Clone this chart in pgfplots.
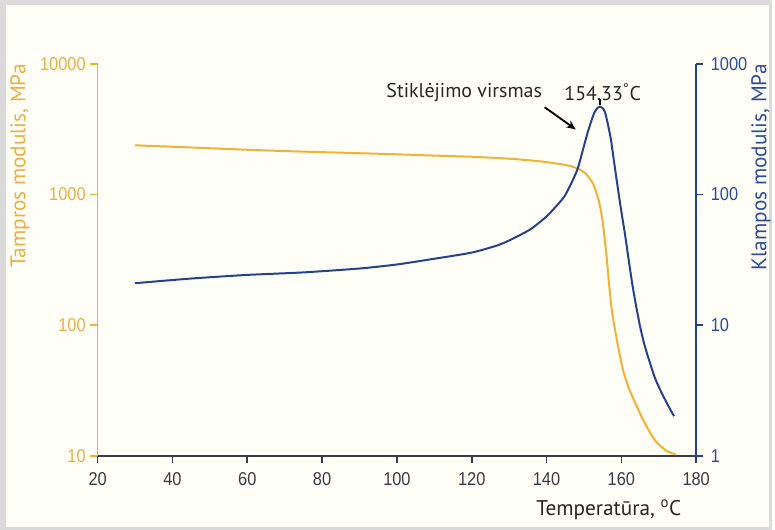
\documentclass[border=0pt]{standalone}
\usepackage{fontspec}
\setmainfont{PT Sans}
\newfontfamily\tickfont[FakeStretch=0.88]{Liberation Sans}
\usepackage{pgfplots}
\pgfplotsset{compat=1.18}
\usetikzlibrary{arrows.meta}
\definecolor{cOr}{HTML}{F2B134}
\definecolor{cOrT}{HTML}{EBAE45}
\definecolor{cBl}{HTML}{23418F}
\definecolor{cBlT}{HTML}{2B4B9B}
\definecolor{cAx}{HTML}{3A3A44}
\definecolor{bgframe}{HTML}{DADADA}
\definecolor{bgin}{HTML}{FFFFF8}
\pgfplotstableread{
T E
30 2380
40 2320
50 2260
60 2200
70 2150
80 2110
90 2070
100 2030
110 1985
120 1945
130 1880
137 1810
142 1740
146 1660
148.5 1575
150.5 1440
152.5 1200
154 890
155 620
156 345
156.8 195
157.6 122
159 72
160.5 45
162 33
164 24.5
166.2 18
169 13.2
172 11.0
174.5 10.3
}\storage
\pgfplotstableread{
T E
30 21.0
45 22.8
60 24.3
75 25.4
90 27.2
100 29.2
110 32.3
120 36
127 41
131 46
135.8 54.5
140 68
143 84
144.8 97
146.5 120
148.3 157
150 235
151 299
152 367
152.8 424
153.6 458
154.33 470
155 458
155.6 428
156.4 345
157.2 264
158 182
159 115
160 74
161 49
162 31
163 20
164 13.8
165 9.8
166 7.4
167 5.9
168 4.8
169 3.94
170 3.39
171 2.95
172 2.6
173 2.29
174.1 2.02
}\loss
\begin{document}
\begin{tikzpicture}
\fill[bgframe] (0,0) rectangle (581.25pt,399pt);
\fill[bgin] (4.5pt,2.5pt) rectangle (579pt,395.25pt);
\begin{axis}[
  at={(73.5pt,55.5pt)}, anchor=south west,
  scale only axis, width=450.75pt, height=295.5pt,
  xmin=20, xmax=180, ymode=log, ymin=10, ymax=10000,
  axis x line*=bottom, axis y line*=left,
  x axis line style={draw=cAx, line width=1.2pt, -},
  y axis line style={draw=cOr, line width=1.2pt, -},
  xtick align=outside, ytick align=outside, major tick length=5.5pt,
  xtick={20,40,60,80,100,120,140,160,180},
  xticklabels={20,40,60,80,100,120,140,160,180},
  ytick={10,100,1000,10000}, yticklabels={10,100,1000,10000},
  yminorticks=false,
  xtick style={draw=cAx, line width=1.3pt},
  ytick style={draw=cOr, line width=1.3pt},
  x tick label style={font=\tickfont\fontsize{14}{16}\selectfont, text=cAx, yshift=-3pt},
  y tick label style={font=\tickfont\fontsize{14}{16}\selectfont, text=cOrT},
  clip=false,
]
\addplot[cOr, line width=1.5pt, smooth, tension=0.4] table[x=T, y=E] {\storage};
\pgfplotsinvokeforeach{20,40,60,80,100,120,140,160,180}{
  \draw[cAx, line width=1.3pt] (axis cs:#1,10) -- ++(0pt,-5.5pt);
}
\end{axis}
\begin{axis}[
  at={(73.5pt,55.5pt)}, anchor=south west,
  scale only axis, width=450.75pt, height=295.5pt,
  xmin=20, xmax=180, ymode=log, ymin=1, ymax=1000,
  axis x line=none, axis y line*=right,
  y axis line style={draw=cBl, line width=1.2pt, -},
  ytick align=outside, major tick length=5.5pt,
  ytick={1,10,100,1000}, yticklabels={1,10,100,1000},
  yminorticks=false,
  ytick style={draw=cBl, line width=1.3pt},
  y tick label style={font=\tickfont\fontsize{14}{16}\selectfont, text=cBlT, xshift=2pt},
  clip=false,
]
\addplot[cBl, line width=1.5pt, smooth, tension=0.4] table[x=T, y=E] {\loss};
\draw[black, line width=1.4pt, -{Stealth[length=7pt,width=6pt]}] (axis cs:139.5,465) -- (axis cs:147.8,315);
\draw[black, line width=1pt] (axis cs:154.33,480) -- (axis cs:154.33,540);
\node[font=\fontsize{15}{17}\selectfont, text=black!85] at (axis cs:118,602) {Stiklėjimo virsmas};
\node[font=\fontsize{15}{17}\selectfont, text=black!85] at (axis cs:155,602) {154.33\textsuperscript{\textdegree}C};
\end{axis}
\node[rotate=90, anchor=east, text=cOrT, font=\fontsize{16}{18}\selectfont] at (15pt,354pt) {Tampros modulis, MPa};
\node[rotate=90, anchor=east, text=cBlT, font=\fontsize{16}{18}\selectfont] at (573pt,354pt) {Klampos modulis, MPa};
\node[anchor=base, text=black!85, font=\fontsize{16}{18}\selectfont] at (458.5pt,10.5pt) {Temperatūra, \textsuperscript{o}C};
\end{tikzpicture}
\end{document}
